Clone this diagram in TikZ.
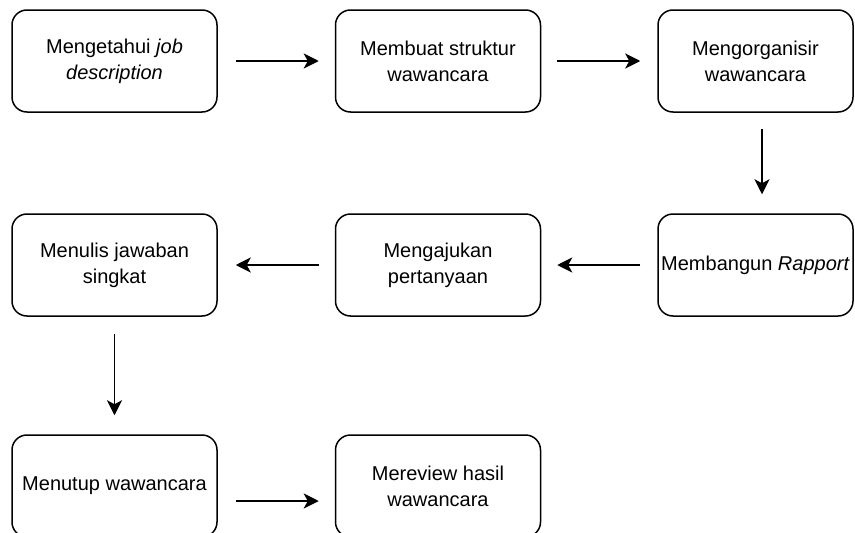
\documentclass[tikz,border=0pt]{standalone}
\usepackage{fontspec}
\setmainfont{Liberation Sans}
\usetikzlibrary{arrows.meta}
\begin{document}
\begin{tikzpicture}[x=1pt,y=-1pt,
  stepbox/.style={draw=black, line width=1.5pt, rounded corners=15pt,
    minimum width=205pt, minimum height=102pt, inner sep=0pt, align=center,
    font=\fontsize{20}{26}\selectfont},
  narrowbox/.style={stepbox, minimum width=195pt},
  flow/.style={line width=1.8pt, -{Stealth[length=15pt,width=15pt,inset=4pt]}}]
  \useasboundingbox (0,0) rectangle (855,533);
  \clip (0,0) rectangle (855,533);

  % first row
  \node[stepbox]   (b1) at (114.5,61) {Mengetahui \textit{job}\\\textit{description}};
  \node[stepbox]   (b2) at (438,61)   {Membuat struktur\\wawancara};
  \node[narrowbox] (b3) at (755.5,61) {Mengorganisir\\wawancara};
  % second row
  \node[stepbox]   (b4) at (114.5,265) {Menulis jawaban\\singkat};
  \node[stepbox]   (b5) at (438,265)   {Mengajukan\\pertanyaan};
  \node[narrowbox] (b6) at (755.5,265) {Membangun \textit{Rapport}};
  % third row
  \node[stepbox]   (b7) at (114.5,486) {Menutup wawancara};
  \node[stepbox]   (b8) at (438,486)   {Mereview hasil\\wawancara};

  % connectors
  \draw[flow, shorten <=18pt, shorten >=16pt] (b1) -- (b2);
  \draw[flow, shorten <=16pt, shorten >=17pt] (b2) -- (b3);
  \draw[flow, shorten <=16pt, shorten >=19pt] ([xshift=6.5pt]b3.south) -- ([xshift=6.5pt]b6.north);
  \draw[flow, shorten <=17pt, shorten >=16pt] (b6) -- (b5);
  \draw[flow, shorten <=16pt, shorten >=18pt] (b5) -- (b4);
  \draw[flow, shorten <=17pt, shorten >=19pt] (b4) -- (b7);
  \draw[flow, shorten <=18pt, shorten >=16pt] ([yshift=-15pt]b7.east) -- ([yshift=-15pt]b8.west);
\end{tikzpicture}
\end{document}
